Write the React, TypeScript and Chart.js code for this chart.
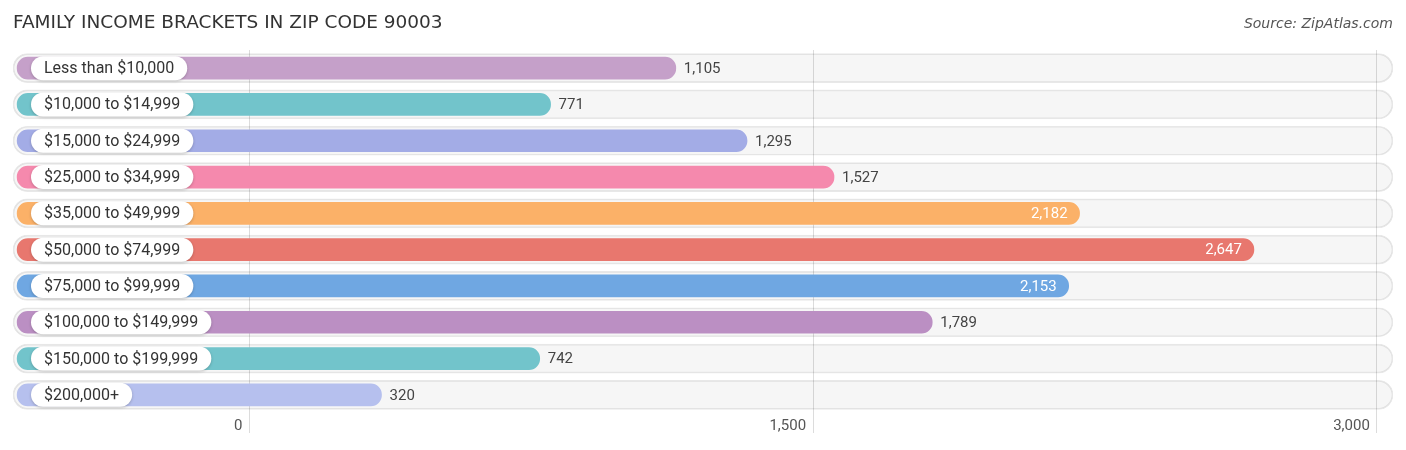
import React, { useEffect, useRef } from "react";
import { Chart, registerables } from "chart.js";

Chart.register(...registerables);

const TITLE = "FAMILY INCOME BRACKETS IN ZIP CODE 90003";
const SOURCE = "Source: ZipAtlas.com";

const CATEGORIES = [
  "Less than $10,000",
  "$10,000 to $14,999",
  "$15,000 to $24,999",
  "$25,000 to $34,999",
  "$35,000 to $49,999",
  "$50,000 to $74,999",
  "$75,000 to $99,999",
  "$100,000 to $149,999",
  "$150,000 to $199,999",
  "$200,000+",
];

const VALUES = [1105, 771, 1295, 1527, 2182, 2647, 2153, 1789, 742, 320];

const COLORS = [
  "#c5a0c9",
  "#72c4cb",
  "#a3ace6",
  "#f589ad",
  "#fbb168",
  "#e8776e",
  "#6fa7e2",
  "#bb8fc3",
  "#72c4cb",
  "#b6c0ee",
];

const TICKS = [0, 1500, 3000];

// scale ranges (bar scale and gridline scale)
const BAR_MIN = -663;
const BAR_MAX = 3018;
const AXIS_MIN = -629;
const AXIS_MAX = 3043;
const BAR_INSET = 11;
const INSIDE_THRESHOLD = 2000;

const fmt = (v: number) => v.toLocaleString("en-US");

function pill(ctx: CanvasRenderingContext2D, x: number, y: number, w: number, h: number) {
  const r = h / 2;
  ctx.beginPath();
  ctx.moveTo(x + r, y);
  ctx.lineTo(x + w - r, y);
  ctx.arc(x + w - r, y + r, r, -Math.PI / 2, Math.PI / 2);
  ctx.lineTo(x + r, y + h);
  ctx.arc(x + r, y + r, r, Math.PI / 2, (3 * Math.PI) / 2);
  ctx.closePath();
}

const overlayPlugin = {
  id: "overlay",
  afterDatasetsDraw(chart: any) {
    const ctx: CanvasRenderingContext2D = chart.ctx;
    const y = chart.scales.y;
    const x = chart.scales.x;
    const area = chart.chartArea;
    ctx.save();
    CATEGORIES.forEach((c, i) => {
      const cy = y.getPixelForValue(i);
      ctx.font = "16px Roboto";
      const tw = ctx.measureText(c).width;
      const px = area.left + 18;
      const pw = tw + 26;
      const ph = 24;
      ctx.save();
      ctx.shadowColor = "rgba(0,0,0,0.22)";
      ctx.shadowBlur = 3;
      ctx.shadowOffsetY = 1;
      ctx.fillStyle = "#ffffff";
      pill(ctx, px, cy - ph / 2, pw, ph);
      ctx.fill();
      ctx.restore();
      ctx.fillStyle = "#333333";
      ctx.textAlign = "left";
      ctx.textBaseline = "middle";
      ctx.fillText(c, px + 13, cy + 1);

      const v = VALUES[i];
      const ex = x.getPixelForValue(v);
      ctx.font = "15px Roboto";
      if (v > INSIDE_THRESHOLD) {
        ctx.fillStyle = "#ffffff";
        ctx.textAlign = "right";
        ctx.fillText(fmt(v), ex - 12, cy + 1);
      } else {
        ctx.fillStyle = "#444444";
        ctx.textAlign = "left";
        ctx.fillText(fmt(v), ex + 8, cy + 1);
      }
    });
    ctx.restore();
  },
  afterDraw(chart: any) {
    const ctx: CanvasRenderingContext2D = chart.ctx;
    const area = chart.chartArea;
    const ax = chart.scales.x2;
    ctx.save();
    ctx.textBaseline = "middle";
    ctx.font = "15px Roboto";
    ctx.fillStyle = "#555555";
    ctx.textAlign = "right";
    ax.ticks.forEach((t: any) => {
      const p = ax.getPixelForValue(t.value);
      ctx.fillText(fmt(t.value), p - 7, area.bottom + 13);
    });
    ctx.textBaseline = "alphabetic";
    ctx.textAlign = "left";
    ctx.fillStyle = "#333333";
    ctx.font = "18.5px 'DejaVu Sans'";
    ctx.fillText(TITLE, area.left, 28);
    ctx.textAlign = "right";
    ctx.fillStyle = "#555555";
    ctx.font = "oblique 14px 'DejaVu Sans'";
    ctx.fillText(SOURCE, area.right, 28);
    ctx.restore();
  },
};

export default function App() {
  const ref = useRef<HTMLCanvasElement | null>(null);
  useEffect(() => {
    document.body.style.margin = "0";
    const canvas = ref.current;
    if (!canvas) return;
    const chart = new Chart(canvas, {
      type: "bar",
      data: {
        labels: CATEGORIES,
        datasets: [
          {
            label: "values",
            data: VALUES.map((v) => [BAR_MIN + BAR_INSET, v]) as any,
            backgroundColor: COLORS,
            borderRadius: 11,
            borderSkipped: false,
            barThickness: 22,
            stack: "s",
            order: 0,
          },
          {
            label: "track",
            data: CATEGORIES.map(() => [BAR_MIN, BAR_MAX]) as any,
            backgroundColor: "rgba(0,0,0,0.035)",
            borderColor: "rgba(0,0,0,0.09)",
            borderWidth: 1,
            borderRadius: 15,
            borderSkipped: false,
            barThickness: 29,
            stack: "s",
            order: 1,
          },
        ],
      },
      options: {
        indexAxis: "y",
        responsive: false,
        animation: false,
        devicePixelRatio: 1,
        layout: { padding: { left: 13, right: 13, top: 50, bottom: 17 } },
        plugins: { legend: { display: false }, tooltip: { enabled: false }, title: { display: false } },
        scales: {
          y: {
            type: "category",
            display: false,
            stacked: true,
            grid: { display: false },
          },
          x: {
            type: "linear",
            display: false,
            min: BAR_MIN,
            max: BAR_MAX,
          },
          x2: {
            type: "linear",
            position: "bottom",
            min: AXIS_MIN,
            max: AXIS_MAX,
            afterBuildTicks: (scale: any) => {
              scale.ticks = TICKS.map((v) => ({ value: v }));
            },
            ticks: { display: false },
            border: { display: false },
            grid: { color: "#dcdcdc", lineWidth: 1, tickLength: 20, drawTicks: true },
          },
        },
      } as any,
      plugins: [overlayPlugin],
    });
    return () => chart.destroy();
  }, []);
  return (
    <div style={{ width: 1406, height: 450, position: "relative", background: "#fff" }}>
      <canvas ref={ref} width={1406} height={450} style={{ width: 1406, height: 450, display: "block" }} />
    </div>
  );
}
